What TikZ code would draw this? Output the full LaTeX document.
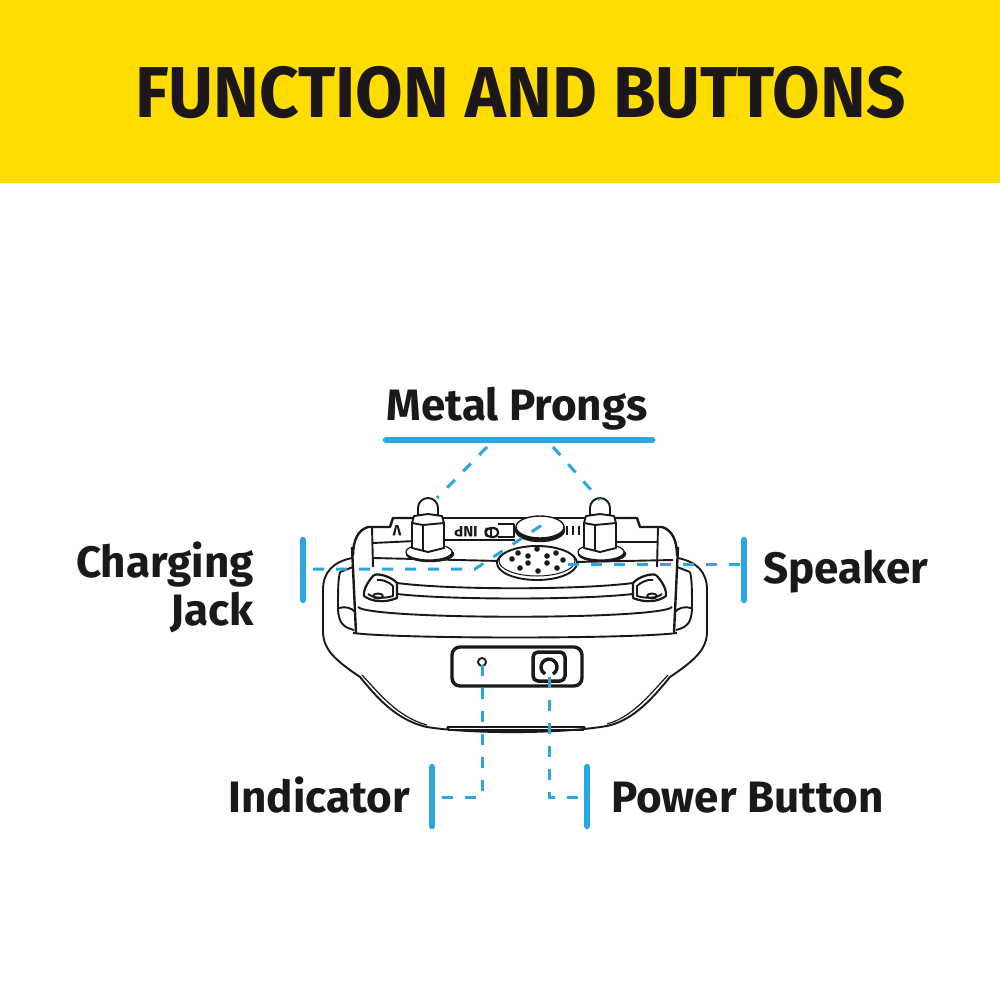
\documentclass[tikz,border=0pt]{standalone}
\usepackage{fontspec}
\setmainfont{Fira Sans}
\definecolor{bannerYellow}{HTML}{FFDD00}
\definecolor{leadBlue}{HTML}{2BA6DE}
\definecolor{inkBlack}{HTML}{1C1718}
\tikzset{
  lbl/.style={font=\fontsize{44}{48}\selectfont\bfseries,text=inkBlack,inner sep=0pt},
  bar/.style={leadBlue,line width=6.5pt,line cap=round},
  lead/.style={leadBlue,line width=3pt,dash pattern=on 11pt off 12pt},
  dev/.style={inkBlack,line width=1.9pt,line join=round},
  devthick/.style={inkBlack,line width=3pt,line join=round},
}
% body details that repeat on both sides
\newcommand{\devside}{
  \draw[dev] (352,558) .. controls (333,562) and (323,572) .. (323,590) -- (323,633);
  \draw[dev] (340,572) .. controls (338,580) and (338,590) .. (338,610) .. controls (339,622) and (342,627) .. (354,630);
  \draw[dev] (340,572) -- (353,567);
  \draw[dev] (339,608) .. controls (345,606) and (352,608) .. (355,612);
  \draw[dev,line width=2.4pt] (352,547) -- (356,633);
  \draw[dev,line width=2.4pt] (353,556) .. controls (353,540) and (358,530) .. (368,527) -- (390,527) -- (393,518) -- (420,518);
  \draw[dev] (372,527) -- (373,567);
  \draw[dev,line width=2.2pt] (374,575) .. controls (379,573) and (392,577) .. (397,583) -- (397,598) .. controls (385,603) and (372,602) .. (364,596) .. controls (363,590) and (368,581) .. (374,575);
  \draw[dev] (377,580) .. controls (382,579) and (389,582) .. (393,586) -- (393,596) .. controls (383,599) and (373,598) .. (368,594);
  \draw[dev] (378,596) ellipse (5pt and 2.5pt);
}
\newcommand{\devprong}[1]{
  \filldraw[inkBlack,fill=inkBlack] (#1+12,554) ellipse (24pt and 8pt);
  \filldraw[dev,line width=1.2pt,fill=white] (#1+11,552) ellipse (23pt and 8pt);
  \filldraw[dev,fill=white] (#1,515) -- ++(0,-7) arc (180:0:10pt) -- ++(0,7) -- cycle;
  \filldraw[dev,fill=white] (#1-4,516) -- (#1+10,514) -- (#1+24,516) -- (#1+26,523) -- (#1+26,548) -- (#1+10,552) -- (#1-6,548) -- (#1-6,523) -- cycle;
  \draw[dev] (#1-6,523) -- (#1+5,525) -- (#1+26,523);
  \draw[dev] (#1+5,525) -- (#1+5,550);
}
\begin{document}
\begin{tikzpicture}[x=1pt,y=-1pt]
\useasboundingbox (0,0) rectangle (1000,1000);
\fill[white] (0,0) rectangle (1000,1000);
\fill[bannerYellow] (0,0) rectangle (1000,183);
\node[anchor=west,text=inkBlack,inner sep=0pt,font=\fontsize{72}{80}\selectfont\bfseries] (title) at (135,93) {\scalebox{0.958}[1]{FUNCTION AND BUTTONS}};

% device body
\draw[dev] (323,633) .. controls (324,650) and (335,660) .. (360,677) .. controls (375,695) and (395,720) .. (427,727) .. controls (470,734) and (560,734) .. (607,726) .. controls (635,720) and (655,695) .. (670,677) .. controls (695,660) and (706,650) .. (707,633);
\draw[dev,line width=1.2pt] (362,675) .. controls (378,692) and (397,717) .. (427,725);
\draw[dev,line width=1.2pt] (668,675) .. controls (652,692) and (633,717) .. (607,724);
\draw[dev,line width=2.8pt] (447,727) -- (585,727);
\draw[dev] (447,727) -- (449,730) -- (583,730) -- (585,727);
\draw[dev] (353,633) .. controls (400,639) and (630,639) .. (677,633);
\draw[dev] (358,607) .. controls (370,620) and (660,620) .. (672,607);
\draw[dev] (397,583) .. controls (450,590) and (580,590) .. (633,583);
\draw[dev] (397,594) .. controls (450,600) and (580,600) .. (633,594);
\devside
\begin{scope}[xshift=1030pt,xscale=-1]
\devside
\end{scope}
\draw[dev,line width=2.6pt] (420,518) -- (637,518);
\draw[dev] (373,543) -- (415,541);
\draw[dev] (443,540) -- (515,540);
\draw[dev] (612,542) -- (658,542);
\draw[dev] (373,558) -- (500,561);
\draw[dev] (575,562) -- (673,560);

% prongs and lens
\devprong{418}
\devprong{590}
\filldraw[inkBlack] (540,530) ellipse (25pt and 12pt);
\filldraw[dev,line width=1.4pt,fill=white] (540,527) ellipse (24pt and 11pt);
\foreach \x in {567,573,579}
  \draw[dev,line width=2.4pt] (\x,526) -- (\x,535);
\node[rotate=180,font=\fontsize{15}{16}\selectfont\bfseries,text=inkBlack,inner sep=0pt] (brandA) at (397,531) {V};
\node[rotate=180,font=\fontsize{15}{16}\selectfont\bfseries,text=inkBlack,inner sep=0pt] (brandB) at (466,532) {INP};
\draw[dev,line width=2.2pt,rounded corners=4pt] (498,528) -- (487,528) -- (485,532) -- (487,537) -- (498,537) -- cycle;
\draw[dev] (491,528) -- (491,537);
\draw[dev] (498,524) -- (514,524) -- (514,537) -- (498,537);

% speaker
\filldraw[dev,fill=white] (537,563) ellipse (40pt and 17pt);
\draw[dev,line width=1pt] (537,561) ellipse (38pt and 15pt);
\foreach \x/\y in {518/553,537/549,556/553,512/559,528/556,547/556,563/560,528/563,547/563,520/568,538/571,557/568}
  \fill[inkBlack] (\x,\y) circle (2.8pt);

% button panel
\draw[devthick,line width=3.4pt,rounded corners=8pt] (452,647) rectangle (582,686);
\draw[dev] (482,662) circle (4pt);
\draw[devthick,line width=3.5pt,rounded corners=5pt] (533,652) rectangle (565,681);
\draw[dev,line width=3.4pt] (553,674) arc (-60:240:8pt);

% labels
\node[lbl,anchor=base] (prongs) at (517,420) {Metal Prongs};
\node[lbl,align=right,anchor=base east] (jack) at (254,625) {Charging\\Jack};
\node[lbl,anchor=base west] (speaker) at (763,583) {Speaker};
\node[lbl,anchor=base east] (indicator) at (410,812) {Indicator};
\node[lbl,anchor=base west] (power) at (611,812) {Power Button};

% bars
\coordinate (prongsL) at (386,440);
\coordinate (prongsR) at (652,440);
\coordinate (jackT) at (303,540);
\coordinate (jackB) at (303,600);
\coordinate (speakerT) at (744,540);
\coordinate (speakerB) at (744,600);
\coordinate (indicatorT) at (432,767);
\coordinate (indicatorB) at (432,826);
\coordinate (powerT) at (587,767);
\coordinate (powerB) at (587,826);
\foreach \a/\b in {prongsL/prongsR,jackT/jackB,speakerT/speakerB,indicatorT/indicatorB,powerT/powerB}
  \draw[bar] (\a) -- (\b);

% leader ends
\coordinate (prongA) at (487,447);
\coordinate (prongAend) at (437,498);
\coordinate (prongB) at (553,447);
\coordinate (prongBend) at (600,500);
\coordinate (jackA) at (313,569);
\coordinate (jackC) at (475,569);
\coordinate (jackEnd) at (545,523);
\coordinate (speakerA) at (568,564);
\coordinate (speakerEnd) at (744,564);
\coordinate (ledEnd) at (482,665);
\coordinate (ledC) at (482,797);
\coordinate (ledA) at (442,797);
\coordinate (btnEnd) at (549,677);
\coordinate (btnC) at (549,797);
\coordinate (btnA) at (578,797);
\draw[lead] (prongA) -- (prongAend);
\draw[lead] (prongB) -- (prongBend);
\draw[lead] (jackA) -- (jackC) -- (jackEnd);
\draw[lead] (speakerA) -- (speakerEnd);
\draw[lead] (ledEnd) -- (ledC) -- (ledA);
\draw[lead] (btnEnd) -- (btnC) -- (btnA);
\end{tikzpicture}
\end{document}
